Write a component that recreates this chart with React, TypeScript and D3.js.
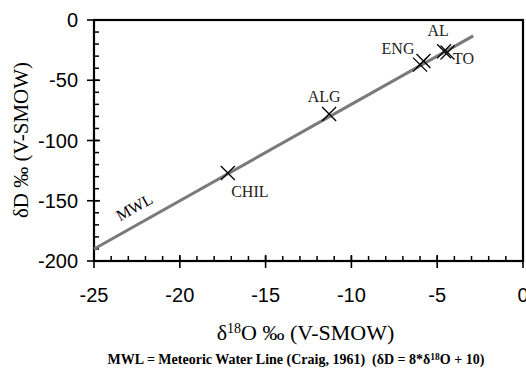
import * as d3 from "d3";
import { useEffect, useRef } from "react";

// samples: δ18O, δD (‰ V-SMOW)
const siteNames = ["CHIL", "ALG", "ENG", "ENG", "AL", "TO"];
const d18O = [-17.2, -11.3, -6.0, -5.8, -4.6, -4.4];
const dD = [-127, -78, -37, -34, -26, -27];

// label text and which marker it belongs to
const labelNames = ["CHIL", "ALG", "ENG", "AL", "TO"];
const labelAt = [0, 1, 2, 4, 5];

const xTicks = [-25, -20, -15, -10, -5, 0];
const yTicks = [0, -50, -100, -150, -200];
const mwlRange = [-25, -2.9];

export default function App() {
  const ref = useRef<SVGSVGElement>(null);

  useEffect(() => {
    if (!ref.current) return;
    const svg = d3.select(ref.current);
    svg.selectAll("*").remove();

    const width = 526;
    const height = 372;
    const margin = { top: 20, right: 3, bottom: 111, left: 94 };
    svg.attr("width", width).attr("height", height);

    const x = d3.scaleLinear().domain([-25, 0]).range([margin.left, width - margin.right]);
    const y = d3.scaleLinear().domain([-200, 0]).range([height - margin.bottom, margin.top]);

    const sans = "Liberation Sans, Arial, sans-serif";
    const serif = "Liberation Serif, DejaVu Serif, serif";

    // minor ticks (inward)
    const g = svg.append("g");
    g.selectAll(".xminor")
      .data(d3.range(-25, 1, 1))
      .join("line")
      .attr("x1", (d) => x(d))
      .attr("x2", (d) => x(d))
      .attr("y1", y(-200))
      .attr("y2", y(-200) - 5)
      .attr("stroke", "#000")
      .attr("stroke-width", 1.5);
    g.selectAll(".yminor")
      .data(d3.range(-200, 1, 10))
      .join("line")
      .attr("x1", x(-25))
      .attr("x2", x(-25) + 5)
      .attr("y1", (d) => y(d))
      .attr("y2", (d) => y(d))
      .attr("stroke", "#000")
      .attr("stroke-width", 1.5);

    // major ticks cross the axis
    g.selectAll(".xmajor")
      .data(xTicks)
      .join("line")
      .attr("x1", (d) => x(d))
      .attr("x2", (d) => x(d))
      .attr("y1", y(-200) - 6)
      .attr("y2", y(-200) + 7)
      .attr("stroke", "#000")
      .attr("stroke-width", 1.6);
    g.selectAll(".ymajor")
      .data(yTicks)
      .join("line")
      .attr("x1", x(-25) - 7)
      .attr("x2", x(-25) + 6)
      .attr("y1", (d) => y(d))
      .attr("y2", (d) => y(d))
      .attr("stroke", "#000")
      .attr("stroke-width", 1.6);

    // frame
    svg
      .append("rect")
      .attr("x", x(-25))
      .attr("y", y(0))
      .attr("width", x(0) - x(-25))
      .attr("height", y(-200) - y(0))
      .attr("fill", "none")
      .attr("stroke", "#000")
      .attr("stroke-width", 2.2);

    // tick labels
    svg
      .selectAll(".xlab")
      .data(xTicks)
      .join("text")
      .attr("x", (d) => x(d))
      .attr("y", 302)
      .attr("text-anchor", "middle")
      .style("font-family", sans)
      .style("font-size", "20px")
      .text((d) => (d < 0 ? "-" + Math.abs(d) : String(d)));
    svg
      .selectAll(".ylab")
      .data(yTicks)
      .join("text")
      .attr("x", x(-25) - 16)
      .attr("y", (d) => y(d))
      .attr("dy", "0.36em")
      .attr("text-anchor", "end")
      .style("font-family", sans)
      .style("font-size", "20px")
      .text((d) => (d < 0 ? "-" + Math.abs(d) : String(d)));

    // meteoric water line δD = 8·δ18O + 10
    const line = d3
      .line<number>()
      .x((d) => x(d))
      .y((d) => y(8 * d + 10));
    svg
      .append("path")
      .attr("d", line(mwlRange))
      .attr("fill", "none")
      .attr("stroke", "#7a7a7a")
      .attr("stroke-width", 3);

    // MWL text along the line
    const angle = (Math.atan2(y(8 * -20 + 10) - y(8 * -25 + 10), x(-20) - x(-25)) * 180) / Math.PI;
    svg
      .append("text")
      .attr("transform", `translate(137,212) rotate(${angle})`)
      .attr("text-anchor", "middle")
      .style("font-family", serif)
      .style("font-size", "16px")
      .text("MWL");

    // X markers
    const s = 7;
    const pts = svg.selectAll(".pt").data(d18O).join("g");
    pts
      .append("line")
      .attr("x1", (d) => x(d) - s)
      .attr("x2", (d) => x(d) + s)
      .attr("y1", (d, i) => y(dD[i]) - s)
      .attr("y2", (d, i) => y(dD[i]) + s)
      .attr("stroke", "#000")
      .attr("stroke-width", 1.3);
    pts
      .append("line")
      .attr("x1", (d) => x(d) - s)
      .attr("x2", (d) => x(d) + s)
      .attr("y1", (d, i) => y(dD[i]) + s)
      .attr("y2", (d, i) => y(dD[i]) - s)
      .attr("stroke", "#000")
      .attr("stroke-width", 1.3);

    const offsets = [
      [22, 24],
      [-5, -12],
      [-22, -11],
      [-6, -15],
      [16, 11],
    ];
    svg
      .selectAll(".site")
      .data(labelNames)
      .join("text")
      .attr("x", (d, i) => x(d18O[labelAt[i]]) + offsets[i][0])
      .attr("y", (d, i) => y(dD[labelAt[i]]) + offsets[i][1])
      .attr("text-anchor", "middle")
      .style("font-family", serif)
      .style("font-size", "16px")
      .style("fill", "#222")
      .text((d) => d);

    // axis titles
    const xt = svg
      .append("text")
      .attr("x", (x(-25) + x(0)) / 2 - 3)
      .attr("y", 340)
      .attr("text-anchor", "middle")
      .style("font-family", serif)
      .style("font-size", "22px");
    xt.append("tspan").text("δ");
    xt.append("tspan").attr("dy", -7).style("font-size", "14px").text("18");
    xt.append("tspan").attr("dy", 7).text("O ‰ (V-SMOW)");

    svg
      .append("text")
      .attr("transform", `translate(28,140) rotate(-90)`)
      .attr("text-anchor", "middle")
      .style("font-family", serif)
      .style("font-size", "21px")
      .text("δD ‰ (V-SMOW)");

    // caption
    const cap = svg
      .append("text")
      .attr("x", 296)
      .attr("y", 364)
      .attr("text-anchor", "middle")
      .style("font-family", serif)
      .style("font-size", "14px")
      .style("font-weight", "bold")
      .attr("xml:space", "preserve");
    cap.append("tspan").text("MWL = Meteoric Water Line (Craig, 1961)  (δD = 8*δ");
    cap.append("tspan").attr("dy", -4).style("font-size", "9.5px").text("18");
    cap.append("tspan").attr("dy", 4).text("O + 10)");
  }, []);

  return <svg ref={ref} style={{ position: "absolute", left: 0, top: 0, background: "#fff" }} />;
}
